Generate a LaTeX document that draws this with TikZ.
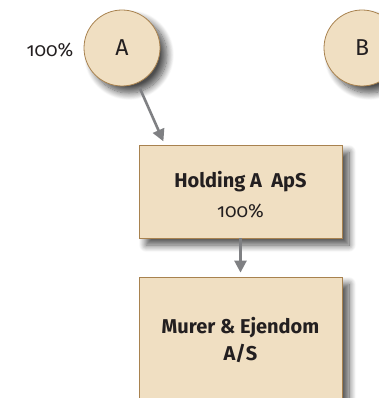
\documentclass[tikz,border=0pt]{standalone}
\usepackage{fontspec}
\setmainfont{Fira Sans}[Numbers=OldStyle]
\usetikzlibrary{shadows.blur,arrows.meta}
\definecolor{boxfill}{HTML}{F0DFC2}
\definecolor{boxline}{HTML}{A8824F}
\definecolor{arrowgray}{HTML}{7F8083}
\definecolor{txt}{HTML}{231F20}
\tikzset{
  shadowed/.style={blur shadow={shadow xshift=7pt, shadow yshift=-7pt, shadow blur radius=7pt, shadow blur steps=12, shadow opacity=70}},
  owner/.style={circle, draw=boxline, line width=0.8pt, fill=boxfill, minimum size=76pt, inner sep=0pt, text=txt, font=\fontsize{23}{26}\selectfont, shadowed},
  company/.style={rectangle, draw=boxline, line width=0.8pt, fill=boxfill, minimum width=203pt, text=txt, align=center, shadowed},
  pct/.style={text=txt, font=\fontsize{19}{22}\selectfont},
  link/.style={draw=arrowgray, line width=2.6pt, -{Triangle[length=12pt,width=12pt]}, shorten >=4pt}
}
\begin{document}
\begin{tikzpicture}[x=1pt,y=-1pt]
\path[use as bounding box] (0,0) rectangle (379,398);
\clip (0,0) rectangle (379,398);
\node[owner] (A) at (122,48) {A};
\node[owner] (B) at (362,48) {B};
\node[pct] (pA) at (50,50) {100\%};
\node[company, minimum height=93pt, font=\fontsize{20}{30}\selectfont\bfseries] (hold) at (240.5,191.5)
  {\rule{0pt}{23pt}Holding A\ \ ApS\\{\mdseries\fontsize{19}{30}\selectfont 100\%}};
\node[company, minimum height=126pt, font=\fontsize{20}{27}\selectfont\bfseries] (murer) at (240.5,340)
  {Murer \& Ejendom\\A/S};
\coordinate (hA) at (165,145);
\draw[link, shorten <=5pt] (A) -- (hA);
\draw[link] (hold.south) -- (murer.north);
\end{tikzpicture}
\end{document}
